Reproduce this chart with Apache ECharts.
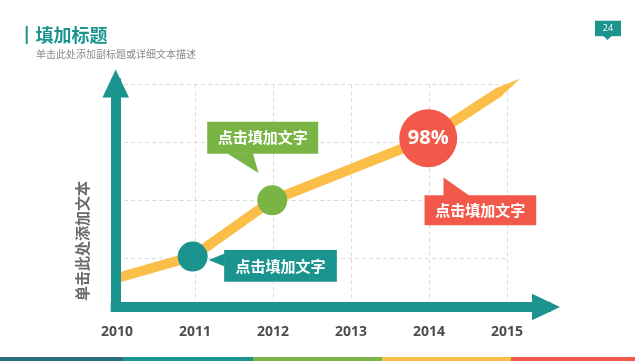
<!DOCTYPE html>
<html><head><meta charset="utf-8">
<script src="https://cdn.jsdelivr.net/npm/echarts@6/dist/echarts.min.js"></script>
<style>html,body{margin:0;padding:0;background:#fff}#c{width:635px;height:361px}</style>
</head><body><div id="c"></div>
<script>
// ---- data ----
const years = ['2010','2011','2012','2013','2014','2015'];
const lineX = [0, 0.97, 1.99, 3.99, 4.9];
const lineY = [0.66, 1.03, 2.0, 3.07, 3.87];
const tipPoint = [5.17, 4.10];
const circleX = [0.97, 1.99, 3.99];
const circleY = [1.03, 2.0, 3.07];
const circleLabels = ['', '', '98%'];
const calloutTexts = ['点击填加文字', '点击填加文字', '点击填加文字'];
const titleText = '填加标题';
const subtitleText = '单击此处添加副标题或详细文本描述';
const yNameText = '单击此处添加文本';
const pageNo = '24';

// ---- styles ----
const TEAL = '#1b948f', GREEN = '#79b445', YELLOW = '#fbbe48', RED = '#f2594a', DARK = '#2b6f7b';
const circleColors = [TEAL, GREEN, RED];
const circleSizes = [30, 30, 58];
const cjk = '"Noto Sans CJK SC", "Noto Sans", sans-serif';
const calloutGeom = [
  {color: TEAL, rect: [31.5, -6.5, 112.7, 31.7], tri: [[16, 3.5], [32, -3], [32, 10]]},
  {color: GREEN, rect: [-65, -78.5, 111, 32], tri: [[-45.3, -47], [-19.3, -47], [-13.7, -27.2]]},
  {color: RED, rect: [-3.7, 57, 111.7, 30], tri: [[15.3, 39.3], [15.3, 58], [42, 58]]}
];

const chart = echarts.init(document.getElementById('c'), null, {renderer: 'canvas'});
const dashed = {show: true, lineStyle: {color: '#dcdcdc', type: [4, 3], width: 1}};

chart.setOption({
  animation: false,
  grid: [
    {left: 117, right: 128, top: 84.3, bottom: 54},
    {left: 115.7, right: 89, top: 83.5, bottom: 54}
  ],
  xAxis: [
    {gridIndex: 0, type: 'value', min: 0, max: 5, interval: 1,
     axisLine: {show: false}, axisTick: {show: false},
     splitLine: Object.assign({showMinLine: false}, dashed),
     axisLabel: {margin: 18, color: '#4d4d4d', fontSize: 14, fontWeight: 'bold', fontFamily: '"Open Sans", sans-serif',
       formatter: v => years[Math.round(v)] || ''}},
    {gridIndex: 1, type: 'value', min: 0, max: 1, z: 3,
     axisLine: {show: true, onZero: false, symbol: ['none', 'triangle'], symbolSize: [26.5, 28],
       lineStyle: {color: TEAL, width: 10, cap: 'square'}},
     axisTick: {show: false}, axisLabel: {show: false}, splitLine: {show: false}}
  ],
  yAxis: [
    {gridIndex: 0, type: 'value', min: 0.16, max: 4, minInterval: 1, maxInterval: 1,
     axisLine: {show: false}, axisTick: {show: false}, axisLabel: {show: false},
     splitLine: Object.assign({showMinLine: false}, dashed)},
    {gridIndex: 1, type: 'value', min: 0, max: 1, z: 3,
     axisLine: {show: true, onZero: false, symbol: ['none', 'triangle'], symbolSize: [26.5, 28],
       lineStyle: {color: TEAL, width: 10, cap: 'square'}},
     axisTick: {show: false}, axisLabel: {show: false}, splitLine: {show: false}}
  ],
  series: [
    {type: 'line', xAxisIndex: 0, yAxisIndex: 0, z: 2, clip: false,
     data: lineX.map((x, i) => [x, lineY[i]]), symbol: 'none',
     lineStyle: {color: YELLOW, width: 10, cap: 'butt', join: 'round'}},
    {type: 'custom', xAxisIndex: 0, yAxisIndex: 0, z: 2,
     data: [[lineX[lineX.length - 1], lineY[lineY.length - 1], tipPoint[0], tipPoint[1]]],
     renderItem: function (params, api) {
       const a = api.coord([api.value(0), api.value(1)]);
       const b = api.coord([api.value(2), api.value(3)]);
       const dx = b[0] - a[0], dy = b[1] - a[1], L = Math.hypot(dx, dy);
       const ux = dx / L, uy = dy / L, px = -uy * 5, py = ux * 5;
       const a0 = [a[0] - ux, a[1] - uy];
       return {type: 'polygon', shape: {points: [[a0[0] + px, a0[1] + py], b, [a0[0] - px, a0[1] - py]]},
         style: {fill: YELLOW}};
     }},
    {type: 'scatter', xAxisIndex: 0, yAxisIndex: 0, z: 4,
     data: circleX.map((x, i) => ({value: [x, circleY[i]], symbolSize: circleSizes[i],
       itemStyle: {color: circleColors[i], opacity: 1},
       label: {show: !!circleLabels[i], position: 'inside', formatter: circleLabels[i],
         color: '#fff', fontSize: 20, fontWeight: 'bold', fontFamily: '"Open Sans", sans-serif'}})),
     emphasis: {disabled: true}},
    {type: 'custom', xAxisIndex: 0, yAxisIndex: 0, z: 5,
     data: circleX.map((x, i) => [x, circleY[i]]),
     renderItem: function (params, api) {
       const p = api.coord([api.value(0), api.value(1)]);
       const g = calloutGeom[params.dataIndex];
       return {type: 'group', children: [
         {type: 'polygon', shape: {points: g.tri.map(t => [p[0] + t[0], p[1] + t[1]])}, style: {fill: g.color}},
         {type: 'rect', shape: {x: p[0] + g.rect[0], y: p[1] + g.rect[1], width: g.rect[2], height: g.rect[3]}, style: {fill: g.color}},
         {type: 'text', x: p[0] + g.rect[0] + g.rect[2] / 2, y: p[1] + g.rect[1] + g.rect[3] / 2,
          style: {text: calloutTexts[params.dataIndex], align: 'center', verticalAlign: 'middle', fill: '#fff',
            font: 'bold 15px ' + cjk}}
       ]};
     }}
  ],
  graphic: [
    {type: 'rect', shape: {x: 25.7, y: 26, width: 2, height: 18}, style: {fill: TEAL}},
    {type: 'text', x: 35.5, y: 35, style: {text: titleText, fill: TEAL, font: 'bold 18px ' + cjk, verticalAlign: 'middle'}},
    {type: 'text', x: 36, y: 54.5, style: {text: subtitleText, fill: '#8a8a8a', font: '10px ' + cjk, verticalAlign: 'middle'}},
    {type: 'rect', shape: {x: 595, y: 20.7, width: 26, height: 15.5}, style: {fill: TEAL}},
    {type: 'polygon', shape: {points: [[603.5, 36], [611.5, 36], [607.5, 40]]}, style: {fill: TEAL}},
    {type: 'text', x: 608, y: 28.5, style: {text: pageNo, fill: '#fff', font: '9px "Open Sans", sans-serif', align: 'center', verticalAlign: 'middle'}},
    {type: 'text', x: 82.5, y: 241, rotation: Math.PI / 2,
     style: {text: yNameText, fill: '#6b6b6b', font: 'bold 15px ' + cjk, align: 'center', verticalAlign: 'middle'}},
    {type: 'rect', shape: {x: 0, y: 357, width: 123, height: 4}, style: {fill: DARK}},
    {type: 'rect', shape: {x: 123, y: 357, width: 130, height: 4}, style: {fill: TEAL}},
    {type: 'rect', shape: {x: 253, y: 357, width: 129, height: 4}, style: {fill: GREEN}},
    {type: 'rect', shape: {x: 382, y: 357, width: 129, height: 4}, style: {fill: YELLOW}},
    {type: 'rect', shape: {x: 511, y: 357, width: 124, height: 4}, style: {fill: RED}}
  ]
});
</script></body></html>
